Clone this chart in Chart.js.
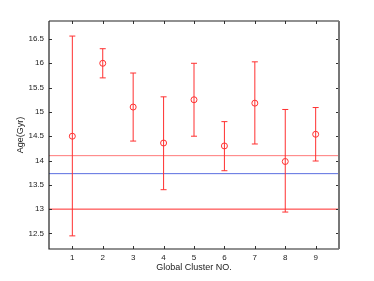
<!DOCTYPE html>
<html>
<head>
<meta charset="utf-8">
<script src="https://cdn.jsdelivr.net/npm/chart.js@4"></script>
<style>
  html, body { margin: 0; padding: 0; background: #fff; }
  #wrap { width: 374px; height: 281px; }
</style>
</head>
<body>
<div id="wrap"><canvas id="c" width="374" height="281"></canvas></div>
<script>
// cluster number, age and error bar ends (Gyr)
var clusters = [1, 2, 3, 4, 5, 6, 7, 8, 9];
var ages  = [14.5, 16.0, 15.1, 14.36, 15.25, 14.3, 15.18, 13.98, 14.54];
var upper = [16.56, 16.3, 15.8, 15.31, 16.0, 14.8, 16.03, 15.05, 15.09];
var lower = [12.45, 15.7, 14.4, 13.4, 14.5, 13.79, 14.34, 12.94, 13.99];

// horizontal reference lines
var refValues = [14.1, 13.73, 13.0];
var refColors = ["#ff7878", "#5a6ee0", "#ff2a2a"];

var xTicks = [1, 2, 3, 4, 5, 6, 7, 8, 9];
var yTicks = [12.5, 13, 13.5, 14, 14.5, 15, 15.5, 16, 16.5];
var X_MIN = 0.233, X_MAX = 9.767;
var Y_MIN = 12.18, Y_MAX = 16.87;

var RED = "#ff3030";
var FONT = { family: "'Liberation Sans', Arial, sans-serif", size: 8 };
var TITLE_FONT = { family: "'Liberation Sans', Arial, sans-serif", size: 9 };

var datasets = [];

// open circle markers (first dataset is drawn on top)
datasets.push({
  data: clusters.map(function (c, i) { return { x: c, y: ages[i] }; }),
  showLine: false,
  pointStyle: "circle",
  pointRadius: 3,
  pointBackgroundColor: "rgba(0,0,0,0)",
  pointBorderColor: RED,
  pointBorderWidth: 1
});

// one vertical error bar per cluster, caps via 'line' point style
clusters.forEach(function (c, i) {
  datasets.push({
    data: [{ x: c, y: lower[i] }, { x: c, y: upper[i] }],
    showLine: true,
    borderColor: RED,
    borderWidth: 1,
    pointStyle: "line",
    pointRadius: 3,
    pointBorderColor: RED,
    pointBorderWidth: 1
  });
});

// reference lines across the whole axis
refValues.forEach(function (v, i) {
  datasets.push({
    data: [{ x: X_MIN, y: v }, { x: X_MAX, y: v }],
    showLine: true,
    borderColor: refColors[i],
    borderWidth: 1,
    pointRadius: 0
  });
});

// box round the plot with inward ticks on all four sides
var boxPlugin = {
  id: "box",
  afterDraw: function (chart) {
    var ctx = chart.ctx;
    var a = chart.chartArea;
    var xs = chart.scales.x, ys = chart.scales.y;
    var len = 3;
    ctx.save();
    ctx.strokeStyle = "#333";
    ctx.lineWidth = 1;
    ctx.beginPath();
    xTicks.forEach(function (v) {
      var px = Math.round(xs.getPixelForValue(v)) + 0.5;
      ctx.moveTo(px, a.bottom); ctx.lineTo(px, a.bottom - len);
      ctx.moveTo(px, a.top); ctx.lineTo(px, a.top + len);
    });
    yTicks.forEach(function (v) {
      var py = Math.round(ys.getPixelForValue(v)) + 0.5;
      ctx.moveTo(a.left, py); ctx.lineTo(a.left + len, py);
      ctx.moveTo(a.right, py); ctx.lineTo(a.right - len, py);
    });
    ctx.stroke();
    ctx.lineWidth = 1.2;
    ctx.strokeStyle = "#222";
    ctx.beginPath();
    ctx.moveTo(a.left, a.top); ctx.lineTo(a.left, a.bottom); ctx.lineTo(a.right, a.bottom);
    ctx.moveTo(a.left, a.top); ctx.lineTo(a.right, a.top);
    ctx.stroke();
    ctx.lineWidth = 2;
    ctx.strokeStyle = "#777";
    ctx.beginPath();
    ctx.moveTo(a.right, a.top); ctx.lineTo(a.right, a.bottom);
    ctx.stroke();
    ctx.restore();
  }
};

new Chart(document.getElementById("c").getContext("2d"), {
  type: "scatter",
  data: { datasets: datasets },
  plugins: [boxPlugin],
  options: {
    responsive: false,
    animation: false,
    devicePixelRatio: 1,
    layout: { padding: { left: 0, top: 21, right: 35, bottom: 0 } },
    plugins: { legend: { display: false }, tooltip: { enabled: false } },
    scales: {
      x: {
        type: "linear",
        min: X_MIN,
        max: X_MAX,
        afterBuildTicks: function (s) { s.ticks = xTicks.map(function (v) { return { value: v }; }); },
        afterFit: function (s) { s.height = 32; },
        grid: { display: false, drawTicks: false },
        border: { display: false },
        ticks: { color: "#222", font: FONT, padding: 4, maxRotation: 0,
          callback: function (v) { return String(v); } },
        title: { display: true, text: "Global Cluster NO.", color: "#222", font: TITLE_FONT, padding: { top: 0, bottom: 8 } }
      },
      y: {
        type: "linear",
        min: Y_MIN,
        max: Y_MAX,
        afterBuildTicks: function (s) { s.ticks = yTicks.map(function (v) { return { value: v }; }); },
        afterFit: function (s) { s.width = 49; },
        grid: { display: false, drawTicks: false },
        border: { display: false },
        ticks: { color: "#222", font: FONT, padding: 5,
          callback: function (v) { return String(v); } },
        title: { display: true, text: "Age(Gyr)", color: "#222", font: TITLE_FONT, padding: { top: 15, bottom: 0 } }
      }
    }
  }
});
</script>
</body>
</html>
